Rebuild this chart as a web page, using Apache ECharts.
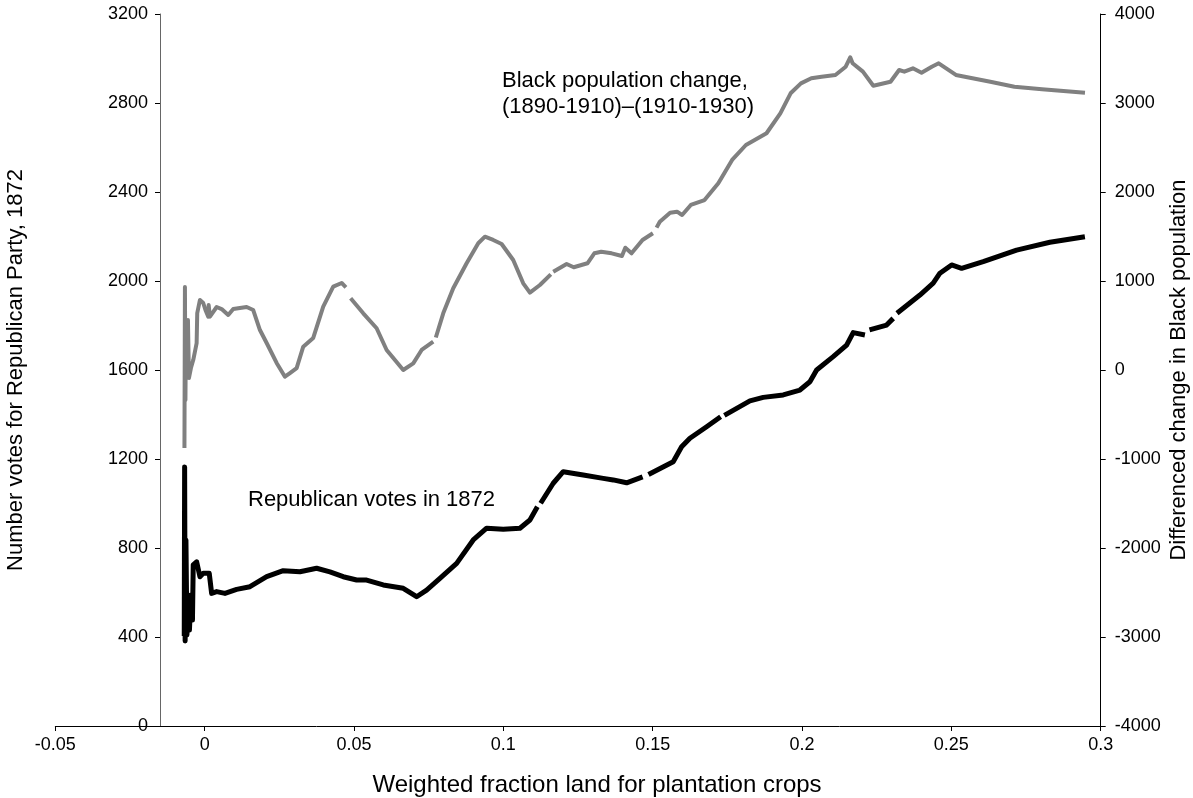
<!DOCTYPE html>
<html>
<head>
<meta charset="utf-8">
<script src="https://cdn.jsdelivr.net/npm/echarts@6/dist/echarts.min.js"></script>
<style>
  html, body { margin: 0; padding: 0; background: #fff; }
  #chart { width: 1193px; height: 798px; }
</style>
</head>
<body>
<div id="chart"></div>
<script>
// Axis ticks
const xTickValues = [-0.05, 0, 0.05, 0.1, 0.15, 0.2, 0.25, 0.3];
const votesTickValues = [0, 400, 800, 1200, 1600, 2000, 2400, 2800, 3200];
const popTickValues = [-4000, -3000, -2000, -1000, 0, 1000, 2000, 3000, 4000];

// Smoothed Black population change, (1890-1910)-(1910-1930); null marks a break in the trace
const popX = [
  -0.00676, -0.00660, -0.00643, -0.00626, -0.00593, -0.00559, -0.00526, -0.00459, -0.00382, -0.00268,
  -0.00248, -0.00157, -0.00047, 0.00027, 0.00121, 0.00134, 0.00177, 0.00402, 0.00569, 0.00790,
  0.00957, 0.01406, 0.01627, 0.01851, 0.02076, 0.02410, 0.02688, 0.02856, 0.03080, 0.03301,
  0.03636, 0.03970, 0.04305, 0.04587, 0.04730, 0.04809, 0.04888, 0.05310, 0.05758, 0.06093,
  0.06649, 0.06984, 0.07265, 0.07653, 0.07700, 0.07740, 0.07988, 0.08323, 0.08771, 0.09160,
  0.09384, 0.09662, 0.09943, 0.10331, 0.10666, 0.10890, 0.11225, 0.11590, 0.11625, 0.11671,
  0.12119, 0.12357, 0.12816, 0.13046, 0.13278, 0.13626, 0.13971, 0.14084, 0.14292, 0.14660,
  0.15008, 0.15080, 0.15130, 0.15239, 0.15584, 0.15815, 0.15986, 0.16277, 0.16736, 0.17198, 0.17660,
  0.18122, 0.18812, 0.19274, 0.19618, 0.19963, 0.20311, 0.20656, 0.21118, 0.21463, 0.21614,
  0.21694, 0.22039, 0.22387, 0.22963, 0.23251, 0.23425, 0.23713, 0.24001, 0.24346, 0.24576,
  0.25152, 0.26304, 0.27111, 0.28035, 0.29474
];
const popChange = [
  -876, 933, -337, 449, -56, 562, -90, 22, 112, 303,
  640, 787, 753, 674, 599, 730, 599, 708, 685, 618,
  685, 708, 674, 449, 303, 79, -75, -34, 22, 262,
  360, 711, 936, 978, 929, null, 806, 637, 469, 225,
  0, 75, 225, 318, null, 365, 637, 918, 1199, 1424,
  1498, 1461, 1416, 1236, 974, 869, 955, 1075, null, 1104,
  1191, 1154, 1199, 1311, 1329, 1311, 1281, 1374, 1311, 1461,
  1536, null, 1600, 1666, 1767, 1779, 1742, 1854, 1910, 2098, 2360,
  2528, 2660, 2884, 3109, 3221, 3278, 3296, 3315, 3408, 3513,
  3446, 3352, 3194, 3239, 3371, 3352, 3390, 3340, 3408, 3446,
  3315, 3239, 3183, 3154, 3116
];

// Smoothed Republican votes in 1872; null marks a break in the trace
const votesX = [
  -0.00683, -0.00670, -0.00653, -0.00626, -0.00593, -0.00549, -0.00509, -0.00459, -0.00408, -0.00382,
  -0.00268, -0.00157, -0.00047, 0.00154, 0.00234, 0.00402, 0.00680, 0.01071, 0.01517, 0.02076,
  0.02631, 0.03191, 0.03750, 0.04195, 0.04640, 0.05089, 0.05423, 0.05979, 0.06649, 0.07097,
  0.07432, 0.07877, 0.08437, 0.08992, 0.09441, 0.09997, 0.10556, 0.10890, 0.11140, 0.11190,
  0.11249, 0.11671, 0.12005, 0.12675, 0.13345, 0.13679, 0.14128, 0.14663, 0.14780, 0.14860,
  0.15688, 0.15969, 0.16247, 0.16806, 0.17275, 0.17330, 0.17400, 0.18256, 0.18701, 0.19371,
  0.19930, 0.20264, 0.20489, 0.21044, 0.21493, 0.21714, 0.22106, 0.22180, 0.22260, 0.22832,
  0.23054, 0.23110, 0.23180, 0.23947, 0.24392, 0.24617, 0.25008, 0.25343, 0.26066, 0.27184,
  0.28299, 0.29471
];
const votes = [
  404, 1164, 382, 836, 409, 566, 431, 589, 476, 724,
  738, 671, 686, 686, 596, 604, 596, 614, 626, 671,
  698, 693, 709, 693, 671, 656, 656, 634, 619, 581,
  611, 664, 731, 836, 889, 884, 889, 926, 985, null,
  1001, 1091, 1143, 1128, 1113, 1106, 1093, 1120, null, 1130,
  1188, 1255, 1293, 1345, 1390, null, 1396, 1461, 1477, 1488,
  1510, 1547, 1600, 1660, 1712, 1768, 1757, null, 1780, 1802,
  1832, null, 1855, 1937, 1990, 2035, 2072, 2057, 2087, 2139,
  2174, 2199
];

const FONT = '"Liberation Sans", Arial, sans-serif';

function pairs(xs, ys) {
  return xs.map((x, i) => [x, ys[i] === null ? '-' : ys[i]]);
}

function fmtTick(v) {
  return String(parseFloat(v.toFixed(2)));
}

const chart = echarts.init(document.getElementById('chart'), null, { renderer: 'canvas' });

const gridLeft = 55.3;
const gridRight = 92.3;
const leftAxisAt = 160;

chart.setOption({
  animation: false,
  backgroundColor: '#ffffff',
  grid: {
    left: gridLeft, right: gridRight, top: 14, bottom: 72,
    containLabel: false, outerBoundsMode: 'none'
  },
  xAxis: {
    type: 'value',
    min: xTickValues[0],
    max: xTickValues[xTickValues.length - 1],
    interval: xTickValues[1] - xTickValues[0],
    axisLine: { show: true, onZero: false, lineStyle: { color: '#000', width: 1 } },
    axisTick: { show: true, inside: false, length: 5, lineStyle: { color: '#000', width: 1 } },
    axisLabel: { color: '#000', fontSize: 18, fontFamily: FONT, margin: 10, formatter: fmtTick },
    splitLine: { show: false }
  },
  yAxis: [
    {
      type: 'value',
      position: 'left',
      offset: -(leftAxisAt - gridLeft),
      min: votesTickValues[0],
      max: votesTickValues[votesTickValues.length - 1],
      interval: votesTickValues[1] - votesTickValues[0],
      axisLine: { show: true, onZero: false, lineStyle: { color: '#666', width: 1 } },
      axisTick: { show: true, inside: false, length: 5, lineStyle: { color: '#000', width: 1 } },
      axisLabel: { color: '#000', fontSize: 18, fontFamily: FONT, margin: 12, formatter: v => String(v) },
      splitLine: { show: false }
    },
    {
      type: 'value',
      position: 'right',
      min: popTickValues[0],
      max: popTickValues[popTickValues.length - 1],
      interval: popTickValues[1] - popTickValues[0],
      axisLine: { show: true, onZero: false, lineStyle: { color: '#000', width: 1 } },
      axisTick: { show: true, inside: false, length: 5, lineStyle: { color: '#000', width: 1 } },
      axisLabel: { color: '#000', fontSize: 18, fontFamily: FONT, margin: 14, formatter: v => String(v) },
      splitLine: { show: false }
    }
  ],
  series: [
    {
      name: 'Black population change',
      type: 'line',
      yAxisIndex: 1,
      data: pairs(popX, popChange),
      showSymbol: false,
      symbol: 'none',
      connectNulls: false,
      lineStyle: { color: '#808080', width: 4, join: 'round', cap: 'butt' },
      z: 2
    },
    {
      name: 'Republican votes in 1872',
      type: 'line',
      yAxisIndex: 0,
      data: pairs(votesX, votes),
      showSymbol: false,
      symbol: 'none',
      connectNulls: false,
      lineStyle: { color: '#000000', width: 5, join: 'round', cap: 'butt' },
      z: 3
    }
  ],
  graphic: [
    {
      type: 'text', left: 502, top: 70,
      style: { text: 'Black population change,', fill: '#000', font: '22px ' + FONT }
    },
    {
      type: 'text', left: 502, top: 96,
      style: { text: '(1890-1910)\u2013(1910-1930)', fill: '#000', font: '22px ' + FONT }
    },
    {
      type: 'text', left: 248, top: 489,
      style: { text: 'Republican votes in 1872', fill: '#000', font: '22px ' + FONT }
    },
    {
      type: 'text', x: 597, y: 785,
      style: { text: 'Weighted fraction land for plantation crops', fill: '#000',
               font: '24px ' + FONT, align: 'center', verticalAlign: 'middle' }
    },
    {
      type: 'text', x: 16, y: 370, rotation: Math.PI / 2,
      style: { text: 'Number votes for Republican Party, 1872', fill: '#000',
               font: '22px ' + FONT, align: 'center', verticalAlign: 'middle' }
    },
    {
      type: 'text', x: 1179, y: 370, rotation: Math.PI / 2,
      style: { text: 'Differenced change in Black population', fill: '#000',
               font: '22px ' + FONT, align: 'center', verticalAlign: 'middle' }
    }
  ]
});
</script>
</body>
</html>
